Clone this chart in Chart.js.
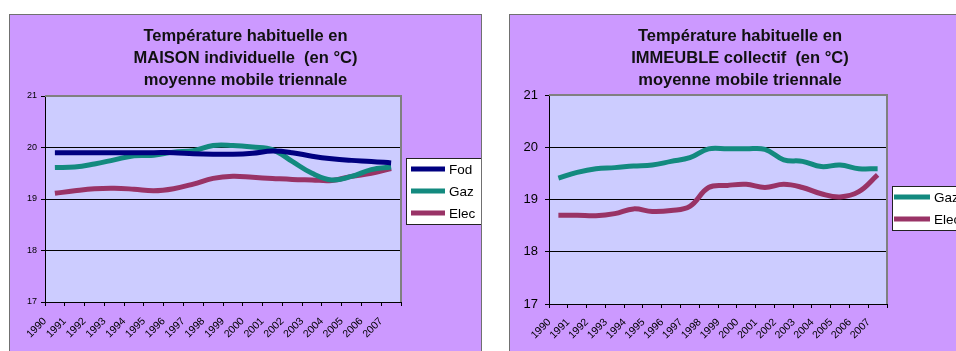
<!DOCTYPE html>
<html>
<head>
<meta charset="utf-8">
<script src="https://cdn.jsdelivr.net/npm/chart.js@4"></script>
<style>
  html, body { margin: 0; padding: 0; background: #fff; overflow: hidden; width: 956px; height: 351px; }
  .frame { position: absolute; top: 14px; border: 1px solid #707070; background: #cc99ff; }
  #f1 { left: 9px; }
  #f2 { left: 509px; }
  canvas { display: block; }
</style>
</head>
<body>
<div class="frame" id="f1"><canvas id="maison" width="471" height="345"></canvas></div>
<div class="frame" id="f2"><canvas id="immeuble" width="460" height="345"></canvas></div>
<script>
// Température habituelle, moyenne mobile triennale
const years = ["1990", "1991", "1992", "1993", "1994", "1995", "1996", "1997", "1998",
  "1999", "2000", "2001", "2002", "2003", "2004", "2005", "2006", "2007"];

// MAISON individuelle
const maisonFod = [19.90, 19.90, 19.90, 19.90, 19.90, 19.90, 19.90, 19.88, 19.87,
  19.87, 19.89, 19.93, 19.90, 19.83, 19.78, 19.75, 19.73, 19.70];
const maisonGaz = [19.61, 19.62, 19.68, 19.76, 19.84, 19.85, 19.91, 19.94, 20.04,
  20.04, 20.01, 19.96, 19.73, 19.50, 19.37, 19.44, 19.57, 19.62];
const maisonElec = [19.11, 19.16, 19.20, 19.21, 19.19, 19.16, 19.20, 19.29, 19.40,
  19.44, 19.42, 19.40, 19.38, 19.37, 19.36, 19.44, 19.50, 19.59];

// IMMEUBLE collectif
const immGaz = [19.41, 19.52, 19.59, 19.61, 19.64, 19.66, 19.73, 19.80, 19.97,
  19.97, 19.97, 19.96, 19.76, 19.73, 19.63, 19.66, 19.59, 19.59];
const immElec = [18.70, 18.70, 18.69, 18.73, 18.82, 18.77, 18.79, 18.87, 19.23,
  19.27, 19.29, 19.23, 19.29, 19.23, 19.11, 19.05, 19.15, 19.47];

const yMin = 17, yMax = 21;
const colors = { Fod: "#000080", Gaz: "#138a7f", Elec: "#993366" };

const FONT = "'Liberation Sans', Arial, sans-serif";

// draws the plot background and the grey top/right border
const plotFrame = {
  id: "plotFrame",
  beforeDraw(chart) {
    const a = chart.chartArea, c = chart.ctx;
    c.save();
    c.fillStyle = "#ccccff";
    c.fillRect(a.left, a.top, a.right - a.left, a.bottom - a.top);
    c.restore();
  },
  beforeDatasetsDraw(chart) {
    const a = chart.chartArea, c = chart.ctx;
    c.save();
    c.strokeStyle = "#808080";
    c.lineWidth = 2;
    c.beginPath();
    c.moveTo(a.left, a.top);
    c.lineTo(a.right, a.top);
    c.lineTo(a.right, a.bottom);
    c.stroke();
    c.restore();
  },
};

const titleLines = {
  id: "titleLines",
  afterDraw(chart, args, opts) {
    const c = chart.ctx;
    c.save();
    c.fillStyle = "#111";
    c.font = "bold " + opts.size + "px " + FONT;
    c.textAlign = "center";
    c.textBaseline = "alphabetic";
    opts.lines.forEach((t, i) => c.fillText(t, chart.width / 2 + opts.dx, opts.baselines[i]));
    c.restore();
  },
};

const boxLegend = {
  id: "boxLegend",
  afterDraw(chart, args, opts) {
    const c = chart.ctx;
    c.save();
    c.fillStyle = "#fff";
    c.fillRect(opts.x, opts.y, opts.w, opts.h);
    c.strokeStyle = "#222";
    c.lineWidth = 1;
    c.strokeRect(opts.x + 0.5, opts.y + 0.5, opts.w, opts.h);
    c.font = opts.size + "px " + FONT;
    c.textBaseline = "middle";
    chart.data.datasets.forEach((ds, i) => {
      const y = opts.rows[i];
      c.strokeStyle = ds.borderColor;
      c.lineWidth = 5;
      c.beginPath();
      c.moveTo(opts.s0, y);
      c.lineTo(opts.s1, y);
      c.stroke();
      c.fillStyle = "#000";
      c.fillText(ds.label, opts.tx, y + 1);
    });
    c.restore();
  },
};

function makeChart(id, series, title, lay) {
  const canvas = document.getElementById(id);
  const W = canvas.width, H = canvas.height;
  return new Chart(canvas.getContext("2d"), {
    type: "line",
    data: {
      labels: years,
      datasets: series.map(s => ({
        label: s.label,
        data: s.data,
        borderColor: colors[s.label],
        backgroundColor: colors[s.label],
        borderWidth: 5,
        pointRadius: 0,
        tension: 0.4,
        fill: false,
      })),
    },
    options: {
      responsive: false,
      animation: false,
      layout: { padding: { top: lay.top, left: 0, right: W - lay.right, bottom: 0 } },
      plugins: {
        legend: { display: false },
        tooltip: { enabled: false },
        title: { display: false },
        titleLines: { lines: title, baselines: [26, 48, 70], size: lay.titleSize, dx: lay.titleDx },
        boxLegend: lay.legend,
      },
      scales: {
        x: {
          offset: true,
          grid: { offset: true, drawOnChartArea: false, drawTicks: true, tickLength: 4, color: "#000" },
          border: { color: "#000", width: 1 },
          ticks: {
            autoSkip: false, minRotation: 45, maxRotation: 45, padding: lay.xPad, labelOffset: lay.xShift,
            color: "#000", font: { family: FONT, size: lay.xSize },
          },
          afterFit(scale) { scale.height = H - lay.bottom; },
        },
        y: {
          min: yMin, max: yMax,
          grid: {
            color: ctx => (ctx.tick && ctx.tick.value === yMax ? "rgba(0,0,0,0)" : "#000"),
            tickColor: "#000", tickLength: 4, lineWidth: 1,
          },
          border: { color: "#000", width: 1 },
          ticks: { stepSize: 1, padding: lay.yPad, color: "#000", font: { family: FONT, size: lay.ySize } },
          afterFit(scale) { scale.width = lay.left; },
        },
      },
    },
    plugins: [plotFrame, titleLines, boxLegend],
  });
}

makeChart("maison",
  [{ label: "Fod", data: maisonFod }, { label: "Gaz", data: maisonGaz }, { label: "Elec", data: maisonElec }],
  ["Température habituelle en", "MAISON individuelle  (en °C)", "moyenne mobile triennale"],
  {
    left: 35, right: 391, top: 81, bottom: 287, titleSize: 16.5, titleDx: 0,
    xSize: 10.5, xPad: 9, xShift: -10, ySize: 9, yPad: 4,
    legend: { x: 396, y: 143, w: 75, h: 66, rows: [154, 176, 198], s0: 401, s1: 435, tx: 439, size: 13.5 },
  });

makeChart("immeuble",
  [{ label: "Gaz", data: immGaz }, { label: "Elec", data: immElec }],
  ["Température habituelle en", "IMMEUBLE collectif  (en °C)", "moyenne mobile triennale"],
  {
    left: 39, right: 377, top: 80, bottom: 289, titleSize: 16.5, titleDx: 0,
    xSize: 10.5, xPad: 8, xShift: -9, ySize: 13, yPad: 7,
    legend: { x: 382, y: 171, w: 100, h: 44, rows: [182, 204], s0: 384, s1: 420, tx: 424, size: 13.5 },
  });
</script>
</body>
</html>
